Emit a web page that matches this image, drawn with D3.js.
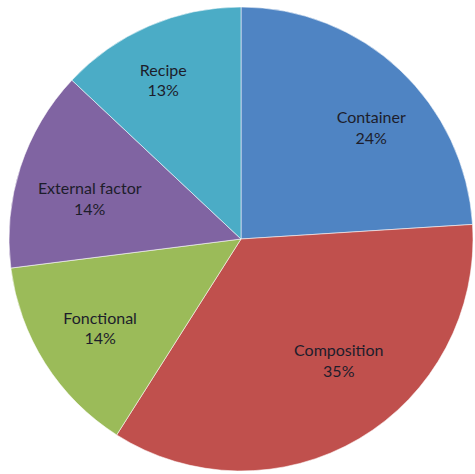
<!DOCTYPE html>
<html>
<head>
<meta charset="utf-8">
<script src="https://cdn.jsdelivr.net/npm/d3@7"></script>
<style>
  html, body { margin: 0; padding: 0; background: #ffffff; }
  svg { display: block; }
</style>
</head>
<body>
<svg id="chart" width="475" height="474"></svg>
<script>
// Share of each category, in percent, clockwise from 12 o'clock
const categories = ["Container", "Composition", "Fonctional", "External factor", "Recipe"];
const shares = [24, 35, 14, 14, 13];
const sliceColors = ["#4F84C3", "#C0504D", "#9BBB59", "#8064A2", "#4BACC6"];

const width = 475, height = 474;
const cx = 241, cy = 239, radius = 232;

// Label placement: distance from centre and a small angular shift (degrees)
// so each label sits in the roomier part of its slice.
const labelLayout = {
  "Container":       { r: 172, shift: 6 },
  "Composition":     { r: 155, shift: -8.5 },
  "Fonctional":      { r: 166, shift: 0.5 },
  "External factor": { r: 157, shift: -2.5 },
  "Recipe":          { r: 178, shift: -2.5 }
};

const svg = d3.select("#chart");
const g = svg.append("g").attr("transform", `translate(${cx},${cy})`);

const data = categories.map((c, i) => ({ name: c, value: shares[i], color: sliceColors[i] }));

const pie = d3.pie().value(d => d.value).sort(null);
const arc = d3.arc().innerRadius(0).outerRadius(radius);
const arcs = pie(data);

g.selectAll("path.slice")
  .data(arcs)
  .join("path")
  .attr("class", "slice")
  .attr("d", arc)
  .attr("fill", d => d.data.color)
  .attr("stroke", "#ffffff")
  .attr("stroke-opacity", 0.55)
  .attr("stroke-width", 1);

const fmt = d3.format(".0%");
const total = d3.sum(shares);

const labels = g.selectAll("text.lbl")
  .data(arcs)
  .join("text")
  .attr("class", "lbl")
  .attr("transform", d => {
    const L = labelLayout[d.data.name];
    const mid = (d.startAngle + d.endAngle) / 2 + L.shift * Math.PI / 180;
    const x = L.r * Math.sin(mid), y = -L.r * Math.cos(mid);
    return `translate(${x},${y})`;
  })
  .attr("text-anchor", "middle")
  .attr("font-family", "Lato, 'Open Sans', sans-serif")
  .attr("font-size", 16)
  .attr("fill", "#1d1d2b");

labels.append("tspan")
  .attr("x", 0)
  .attr("dy", "-0.2em")
  .text(d => d.data.name);
labels.append("tspan")
  .attr("x", 0)
  .attr("dy", "1.3em")
  .text(d => fmt(d.data.value / total));
</script>
</body>
</html>
